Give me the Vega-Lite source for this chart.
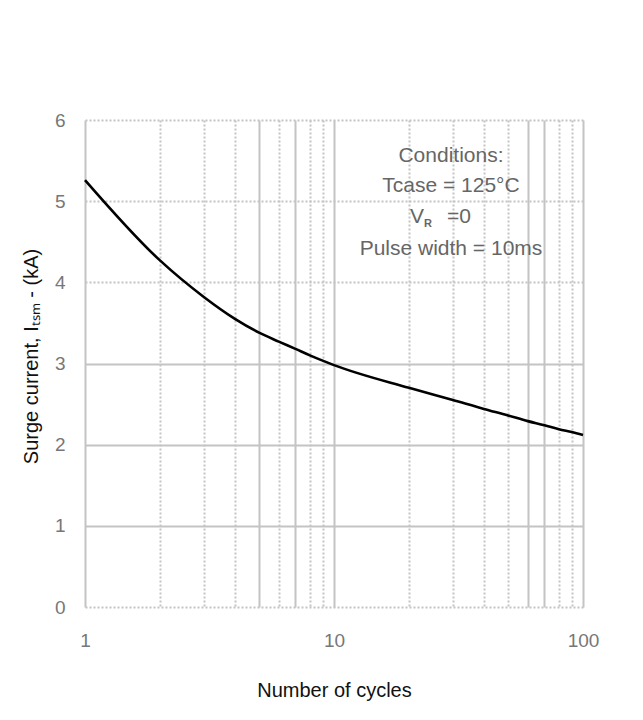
{
  "$schema": "https://vega.github.io/schema/vega-lite/v6.json",
  "width": 498,
  "height": 487,
  "autosize": {"type": "none"},
  "padding": {"left": 85, "top": 120, "right": 60, "bottom": 113},
  "background": "white",
  "config": {
    "view": {"stroke": null},
    "font": "Liberation Sans"
  },
  "datasets": {
    "curve": [
      {"cycles": 1, "current": 5.26},
      {"cycles": 2, "current": 4.27},
      {"cycles": 3, "current": 3.82},
      {"cycles": 4, "current": 3.55},
      {"cycles": 5, "current": 3.38},
      {"cycles": 6, "current": 3.27},
      {"cycles": 7, "current": 3.18},
      {"cycles": 8, "current": 3.1},
      {"cycles": 9, "current": 3.035},
      {"cycles": 10, "current": 2.98},
      {"cycles": 20, "current": 2.7},
      {"cycles": 30, "current": 2.55},
      {"cycles": 40, "current": 2.44},
      {"cycles": 50, "current": 2.36},
      {"cycles": 60, "current": 2.29},
      {"cycles": 70, "current": 2.24},
      {"cycles": 80, "current": 2.19},
      {"cycles": 90, "current": 2.155},
      {"cycles": 100, "current": 2.12}
    ],
    "notes": [
      {"cycles": 29.5, "current": 5.556, "label": "Conditions:"},
      {"cycles": 29.5, "current": 5.187, "label": "Tcase = 125°C"},
      {"cycles": 29.5, "current": 4.41, "label": "Pulse width = 10ms"}
    ],
    "vr": [
      {"cycles": 29.5, "current": 4.805, "v": "V", "sub": "R", "rest": "=0"}
    ]
  },
  "layer": [
    {
      "data": {"name": "curve"},
      "mark": {"type": "line", "color": "black", "strokeWidth": 2.6, "interpolate": "monotone"},
      "encoding": {
        "x": {
          "field": "cycles", "type": "quantitative",
          "scale": {"type": "log", "domain": [1, 100], "nice": false},
          "axis": {
            "title": "Number of cycles",
            "values": [1, 2, 3, 4, 5, 6, 7, 8, 9, 10, 20, 30, 40, 50, 60, 70, 80, 90, 100],
            "labelExpr": "indexof([1, 10, 100], datum.value) >= 0 ? format(datum.value, 'd') : ''",
            "ticks": false, "domain": false,
            "labelPadding": 24, "labelFontSize": 19, "labelColor": "#777777",
            "labelFlush": false,
            "titleFontSize": 20, "titleColor": "#111111", "titleFontWeight": "normal",
            "titleX": 249, "titleY": 83, "titleBaseline": "middle",
            "gridColor": "#c4c4c4", "gridWidth": 2,
            "gridDash": {"condition": {"test": "indexof([1, 5, 7, 10, 60, 70, 100], datum.value) >= 0", "value": []}, "value": [2, 2]}
          }
        },
        "y": {
          "field": "current", "type": "quantitative",
          "scale": {"domain": [0, 6], "nice": false},
          "axis": {
            "title": "Surge current, Iₜₛₘ - (kA)",
            "values": [0, 1, 2, 3, 4, 5, 6],
            "format": "d",
            "ticks": false, "domain": false,
            "labelPadding": 20, "labelFontSize": 19, "labelColor": "#777777",
            "labelFlush": false,
            "titleFontSize": 20, "titleColor": "#111111", "titleFontWeight": "normal",
            "titleAngle": -90, "titleX": -54, "titleY": 236, "titleAlign": "center", "titleBaseline": "middle",
            "gridColor": "#c4c4c4", "gridWidth": 2,
            "gridDash": {"condition": {"test": "indexof([1, 2, 3], datum.value) >= 0", "value": []}, "value": [2, 2]}
          }
        }
      }
    },
    {
      "data": {"name": "notes"},
      "mark": {"type": "text", "fontSize": 21, "color": "#666666", "align": "center", "baseline": "middle"},
      "encoding": {
        "x": {"field": "cycles", "type": "quantitative"},
        "y": {"field": "current", "type": "quantitative"},
        "text": {"field": "label"}
      }
    },
    {
      "data": {"name": "vr"},
      "mark": {"type": "text", "fontSize": 21, "color": "#666666", "align": "right", "baseline": "middle", "dx": -27},
      "encoding": {
        "x": {"field": "cycles", "type": "quantitative"},
        "y": {"field": "current", "type": "quantitative"},
        "text": {"field": "v"}
      }
    },
    {
      "data": {"name": "vr"},
      "mark": {"type": "text", "fontSize": 11, "fontWeight": "bold", "color": "#666666", "align": "left", "baseline": "middle", "dx": -27, "dy": 7},
      "encoding": {
        "x": {"field": "cycles", "type": "quantitative"},
        "y": {"field": "current", "type": "quantitative"},
        "text": {"field": "sub"}
      }
    },
    {
      "data": {"name": "vr"},
      "mark": {"type": "text", "fontSize": 21, "color": "#666666", "align": "left", "baseline": "middle", "dx": -4},
      "encoding": {
        "x": {"field": "cycles", "type": "quantitative"},
        "y": {"field": "current", "type": "quantitative"},
        "text": {"field": "rest"}
      }
    }
  ]
}
